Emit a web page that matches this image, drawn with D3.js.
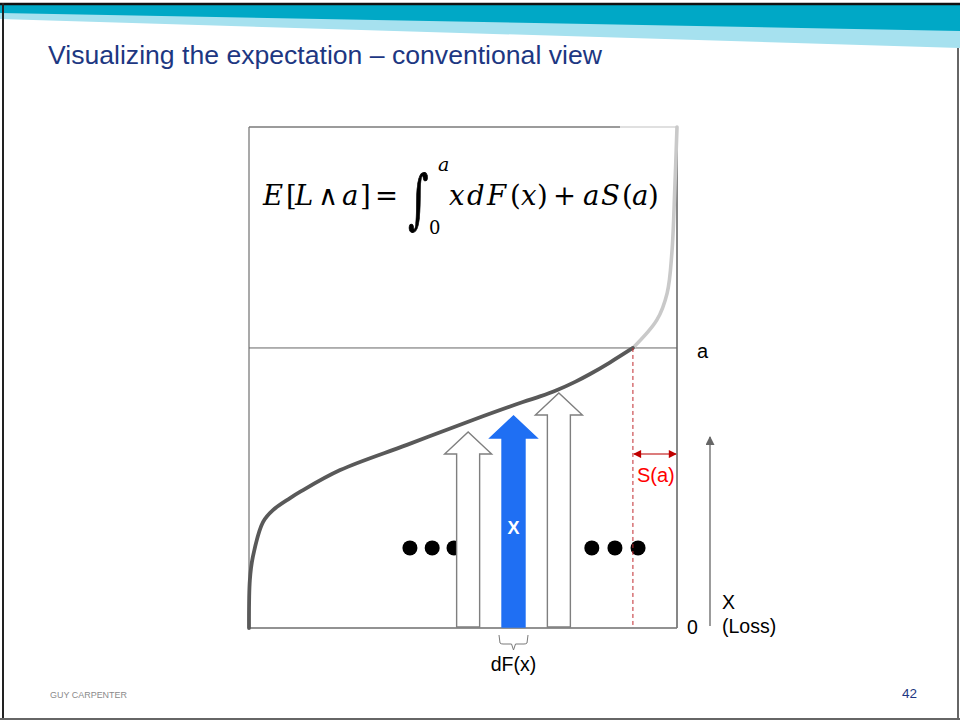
<!DOCTYPE html>
<html>
<head>
<meta charset="utf-8">
<script src="https://cdn.jsdelivr.net/npm/d3@7"></script>
<style>
  html, body { margin: 0; padding: 0; background: #fff; }
  svg { display: block; }
</style>
</head>
<body>
<script>
// Loss distribution drawn as a quantile curve: cumulative probability F on x, loss on y
const cdfProb    = [0, 0.002, 0.009, 0.033, 0.056, 0.096, 0.119, 0.213, 0.369, 0.523, 0.640, 0.680, 0.720, 0.762, 0.797, 0.843, 0.897, 0.953, 0.977, 0.988, 0.995, 1.0];
const lossValues = [0, 0.171, 0.254, 0.379, 0.421, 0.464, 0.486, 0.564, 0.654, 0.743, 0.807, 0.827, 0.850, 0.879, 0.907, 0.948, 1.0, 1.10, 1.196, 1.339, 1.575, 1.789];

// Policy limit a and its non-exceedance probability F(a)
const limitA = 1.0;
const probAtLimit = 0.897;

// Sample losses shown as upward arrows (the middle one is highlighted)
const arrowProb = [0.512, 0.618, 0.724];
const arrowLoss = [0.70, 0.757, 0.839];
const arrowLabels = ["", "X", ""];
const highlighted = 1;

// Ellipsis dots on either side of the arrows
const dotProb = [0.376, 0.428, 0.479, 0.801, 0.855, 0.909];
const dotLoss = 0.286;

// Texts
const titleText = "Visualizing the expectation \u2013 conventional view";
const footerLeft = "GUY CARPENTER";
const pageNumber = "42";
const axisLabels = { limit: "a", zero: "0", loss: "X", lossSub: "(Loss)", survival: "S(a)", density: "dF(x)" };

const W = 960, H = 721;
const sans = "'Liberation Sans', Arial, Helvetica, sans-serif";
const serif = "'DejaVu Serif', 'Liberation Serif', serif";

const svg = d3.select("body").append("svg").attr("width", W).attr("height", H);

// ---- slide frame and header ribbons ----
svg.append("rect").attr("width", W).attr("height", H).attr("fill", "#fff");
svg.append("path")
  .attr("d", "M0,19 L960,48 L960,5 L0,5 Z")
  .attr("fill", "#a6e1ef");
svg.append("path")
  .attr("d", "M0,13 L960,31 L960,5 L0,5 Z")
  .attr("fill", "#00a8c6");
svg.append("line").attr("x1", 0).attr("x2", W).attr("y1", 4).attr("y2", 4)
  .attr("stroke", "#111").attr("stroke-width", 2.5);
svg.append("line").attr("x1", 3).attr("x2", 3).attr("y1", 3).attr("y2", 720)
  .attr("stroke", "#222").attr("stroke-width", 2);
svg.append("line").attr("x1", 0).attr("x2", W).attr("y1", 719).attr("y2", 719)
  .attr("stroke", "#666").attr("stroke-width", 2);
svg.append("line").attr("x1", 958).attr("x2", 958).attr("y1", 48).attr("y2", 720)
  .attr("stroke", "#666").attr("stroke-width", 2);

svg.append("text")
  .attr("x", 48).attr("y", 64)
  .attr("font-family", sans).attr("font-size", 26.6)
  .attr("fill", "#1d3782")
  .text(titleText);

svg.append("text")
  .attr("x", 50).attr("y", 698)
  .attr("font-family", sans).attr("font-size", 9)
  .attr("textLength", 77).attr("lengthAdjust", "spacingAndGlyphs")
  .attr("fill", "#8a8a8a")
  .text(footerLeft);
svg.append("text")
  .attr("x", 917).attr("y", 698).attr("text-anchor", "end")
  .attr("font-family", sans).attr("font-size", 13.5)
  .attr("fill", "#1d3782")
  .text(pageNumber);

// ---- scales ----
const plotLeft = 249, plotRight = 677, plotBottom = 628, plotTop = 127;
const x = d3.scaleLinear().domain([0, 1]).range([plotLeft, plotRight]);
const y = d3.scaleLinear().domain([0, d3.max(lossValues)]).range([plotBottom, plotTop]);

const g = svg.append("g");

// plot frame
g.append("rect")
  .attr("x", plotLeft).attr("y", plotTop)
  .attr("width", plotRight - plotLeft).attr("height", plotBottom - plotTop)
  .attr("fill", "#fff").attr("stroke", "none");
g.append("line").attr("x1", plotLeft).attr("x2", plotLeft).attr("y1", plotTop).attr("y2", plotBottom)
  .attr("stroke", "#8c8c8c").attr("stroke-width", 1.5);
g.append("line").attr("x1", plotLeft).attr("x2", plotRight).attr("y1", plotBottom).attr("y2", plotBottom)
  .attr("stroke", "#6e6e6e").attr("stroke-width", 1.5);
g.append("line").attr("x1", plotRight).attr("x2", plotRight).attr("y1", plotTop).attr("y2", plotBottom)
  .attr("stroke", "#7a7a7a").attr("stroke-width", 1.8);
g.append("line").attr("x1", plotLeft).attr("x2", x(0.867)).attr("y1", plotTop).attr("y2", plotTop)
  .attr("stroke", "#7a7a7a").attr("stroke-width", 1.3);
g.append("line").attr("x1", x(0.867)).attr("x2", plotRight).attr("y1", plotTop).attr("y2", plotTop)
  .attr("stroke", "#d6d6d6").attr("stroke-width", 1.3);

// horizontal line at the limit a
g.append("line")
  .attr("x1", plotLeft).attr("x2", plotRight)
  .attr("y1", y(limitA)).attr("y2", y(limitA))
  .attr("stroke", "#666").attr("stroke-width", 1);

// ellipsis dots
g.selectAll("circle.dot").data(dotProb).join("circle")
  .attr("class", "dot")
  .attr("cx", d => x(d)).attr("cy", y(dotLoss)).attr("r", 7.5)
  .attr("fill", "#000");

// loss arrows
const shaftHalf = 11.5, headHalf = 23.5, headH = 22;
const arrowPath = (p, v) => {
  const cx = x(p), tip = y(v), base = y(0) - 1, hb = tip + headH;
  return `M${cx - shaftHalf},${base} L${cx - shaftHalf},${hb} L${cx - headHalf},${hb} L${cx},${tip} ` +
         `L${cx + headHalf},${hb} L${cx + shaftHalf},${hb} L${cx + shaftHalf},${base} Z`;
};
const arrows = arrowProb.map((p, i) => ({ p, v: arrowLoss[i], label: arrowLabels[i], hi: i === highlighted }));
g.selectAll("path.lossArrow").data(arrows).join("path")
  .attr("class", "lossArrow")
  .attr("d", d => arrowPath(d.p, d.v))
  .attr("fill", d => d.hi ? "#1f6ff3" : "#fff")
  .attr("stroke", d => d.hi ? "#1f6ff3" : "#7f7f7f")
  .attr("stroke-width", 1.4)
  .attr("stroke-linejoin", "miter");
g.selectAll("text.arrowLabel").data(arrows.filter(d => d.label)).join("text")
  .attr("class", "arrowLabel")
  .attr("x", d => x(d.p)).attr("y", 534)
  .attr("text-anchor", "middle")
  .attr("font-family", sans).attr("font-size", 18).attr("font-weight", "bold")
  .attr("fill", "#fff")
  .text(d => d.label);

// quantile curve: light above the limit, dark below
const pts = cdfProb.map((p, i) => [p, lossValues[i]]);
const line = d3.line().x(d => x(d[0])).y(d => y(d[1])).curve(d3.curveCatmullRom.alpha(0.5));
const lower = pts.filter(d => d[0] <= probAtLimit);
const upper = pts.filter(d => d[0] >= probAtLimit);
g.append("path").attr("d", line(upper))
  .attr("fill", "none").attr("stroke", "#c9c9c9").attr("stroke-width", 3.6)
  .attr("stroke-linecap", "round");
g.append("path").attr("d", line(lower))
  .attr("fill", "none").attr("stroke", "#595959").attr("stroke-width", 3.8)
  .attr("stroke-linecap", "round");

// survival probability S(a) marker
g.append("line")
  .attr("x1", x(probAtLimit)).attr("x2", x(probAtLimit))
  .attr("y1", y(limitA)).attr("y2", y(0))
  .attr("stroke", "#c0282d").attr("stroke-width", 1)
  .attr("stroke-dasharray", "4,3");

const defs = svg.append("defs");
defs.append("marker").attr("id", "redHead")
  .attr("viewBox", "0 0 10 10").attr("refX", 9).attr("refY", 5)
  .attr("markerWidth", 10).attr("markerHeight", 8).attr("markerUnits", "userSpaceOnUse")
  .attr("orient", "auto-start-reverse")
  .append("path").attr("d", "M0,0 L10,5 L0,10 Z").attr("fill", "#c00000");
defs.append("marker").attr("id", "greyHead")
  .attr("viewBox", "0 0 10 10").attr("refX", 9).attr("refY", 5)
  .attr("markerWidth", 13).attr("markerHeight", 9).attr("markerUnits", "userSpaceOnUse")
  .attr("orient", "auto")
  .append("path").attr("d", "M0,0 L10,5 L0,10 Z").attr("fill", "#666");

const sLevel = 0.621;
g.append("line")
  .attr("x1", x(probAtLimit) + 1).attr("x2", x(1) - 1)
  .attr("y1", y(sLevel)).attr("y2", y(sLevel))
  .attr("stroke", "#d05050").attr("stroke-width", 1.5)
  .attr("marker-start", "url(#redHead)").attr("marker-end", "url(#redHead)");
g.append("text")
  .attr("x", x(probAtLimit) + 4).attr("y", 482)
  .attr("font-family", sans).attr("font-size", 20)
  .attr("fill", "#ff0000")
  .text(axisLabels.survival);

// loss axis on the right
g.append("line")
  .attr("x1", 710).attr("x2", 710)
  .attr("y1", y(0) - 2).attr("y2", y(0.682))
  .attr("stroke", "#666").attr("stroke-width", 1.3)
  .attr("marker-end", "url(#greyHead)");
g.append("text").attr("x", 697).attr("y", y(limitA) + 10)
  .attr("font-family", sans).attr("font-size", 20).attr("fill", "#000")
  .text(axisLabels.limit);
g.append("text").attr("x", 687).attr("y", y(0) + 6)
  .attr("font-family", sans).attr("font-size", 19.5).attr("fill", "#000")
  .text(axisLabels.zero);
g.append("text").attr("x", 722).attr("y", 609)
  .attr("font-family", sans).attr("font-size", 19.5).attr("fill", "#000")
  .text(axisLabels.loss);
g.append("text").attr("x", 722).attr("y", 633)
  .attr("font-family", sans).attr("font-size", 19.5).attr("fill", "#000")
  .text(axisLabels.lossSub);

// brace under the highlighted arrow, width = dF(x)
const bx0 = x(arrowProb[highlighted]) - 14.5, bx1 = x(arrowProb[highlighted]) + 14.5;
const bmid = x(arrowProb[highlighted]);
g.append("path")
  .attr("d", `M${bx0},635 L${bx0 + 1},643 Q${bx0 + 2},644 ${bx0 + 4},644 L${bmid - 2},644 L${bmid},650 L${bmid + 2},644 L${bx1 - 4},644 Q${bx1 - 2},644 ${bx1 - 1},643 L${bx1},635`)
  .attr("fill", "none").attr("stroke", "#7a7a7a").attr("stroke-width", 1);
g.append("text").attr("x", bmid).attr("y", 671).attr("text-anchor", "middle")
  .attr("font-family", sans).attr("font-size", 19.5).attr("fill", "#000")
  .text(axisLabels.density);

// limited expected value formula, set glyph by glyph
const f = g.append("g").attr("font-family", serif).attr("fill", "#000");
const glyphs = [
  ["E", 263, 1], ["[", 286, 0], ["L", 295, 1], ["\u2227", 318, 0], ["a", 342, 1], ["]", 360, 0],
  ["=", 375, 0],
  ["x", 449, 1], ["d", 467, 1], ["F", 487, 1], ["(", 510, 0], ["x", 521, 1], [")", 537, 0],
  ["+", 553, 0],
  ["a", 583, 1], ["S", 601, 1], ["(", 622, 0], ["a", 632, 1], [")", 648, 0]
];
f.selectAll("text.glyph").data(glyphs).join("text")
  .attr("class", "glyph")
  .attr("x", d => d[1]).attr("y", 205)
  .attr("font-size", 27.5)
  .attr("font-style", d => d[2] ? "italic" : "normal")
  .text(d => d[0]);
f.append("text").attr("x", 0).attr("y", 0)
  .attr("transform", "translate(408,221) scale(0.98,1.6)")
  .attr("font-size", 40)
  .attr("stroke", "#000").attr("stroke-width", 0.6)
  .text("\u222B");
f.append("text").attr("x", 438).attr("y", 171).attr("font-size", 19).attr("font-style", "italic").text("a");
f.append("text").attr("x", 429).attr("y", 234).attr("font-size", 18).text("0");
</script>
</body>
</html>
